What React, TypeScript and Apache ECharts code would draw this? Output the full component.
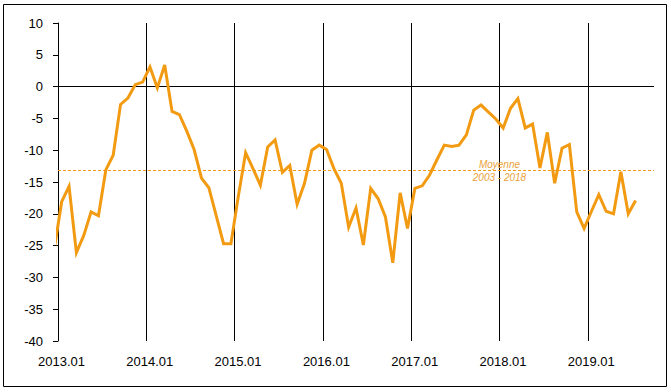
import React, { useEffect, useRef } from 'react';
import * as echarts from 'echarts';

// Monthly values, first entry is 2012.12 (clipped at the left edge), last is 2019.07
const firstYear = 2013;
const monthValues: number[] = [
  -25.5, // 2012.12
  -18.1, -15.7, -26.1, -23.4, -19.7, -20.3, -13.1, -10.8, -2.8, -1.8, 0.3, 0.7, // 2013
  3.1, -0.2, 3.4, -3.9, -4.4, -7.0, -9.9, -14.4, -15.9, -20.3, -24.7, -24.7, // 2014
  -17.3, -10.4, -12.9, -15.5, -9.5, -8.4, -13.5, -12.4, -18.5, -15.2, -10.0, -9.2, // 2015
  -9.9, -12.9, -15.2, -22.1, -19.1, -24.9, -16.0, -17.6, -20.5, -27.7, -16.7, -22.3, // 2016
  -16.0, -15.6, -13.9, -11.5, -9.2, -9.4, -9.2, -7.6, -3.7, -2.9, -4.0, -5.1, // 2017
  -6.5, -3.4, -1.9, -6.5, -5.9, -12.8, -7.2, -15.2, -9.7, -9.1, -19.7, -22.3, // 2018
  -19.6, -17.0, -19.6, -20.0, -13.4, -20.0, -17.9, // 2019
];
const yearStarts = [0, 12, 24, 36, 48, 60, 72]; // months from 2013.01
const axisMonths = 81;
const averageValue = -13.2;
const averageLabel = 'Moyenne\n2003 - 2018';
const averageLabelAt = 60; // month offset where the label sits

const ORANGE = '#F29B12';
const FONT = '"Liberation Sans", Arial, sans-serif';

export default function App() {
  const ref = useRef<HTMLDivElement>(null);
  useEffect(() => {
    if (!ref.current) return;
    const chart = echarts.init(ref.current, null, { renderer: 'svg' });
    const seriesData = monthValues.map((v, j) => [j - 0.5, v]);
    chart.setOption({
      animation: false,
      grid: { left: 58, right: 17, top: 23, bottom: 51, containLabel: false },
      graphic: [
        {
          type: 'rect',
          shape: { x: 3.5, y: 4.5, width: 663, height: 382 },
          style: { fill: 'none', stroke: '#000', lineWidth: 1 },
          silent: true,
        },
      ],
      xAxis: {
        type: 'value',
        min: 0,
        max: axisMonths,
        interval: 12,
        axisLine: { show: false },
        axisTick: { show: false },
        splitLine: { show: false },
        axisLabel: {
          formatter: (v: number) => (v % 12 === 0 ? `${firstYear + v / 12}.01` : ''),
          margin: 14,
          fontSize: 13,
          color: '#000',
          fontFamily: FONT,
          padding: [0, 0, 0, 7],
        },
      },
      yAxis: {
        type: 'value',
        min: -40,
        max: 10,
        interval: 5,
        axisLine: { show: true, lineStyle: { color: '#000', width: 1 } },
        axisTick: { show: true, length: 5, lineStyle: { color: '#000', width: 1 } },
        splitLine: { show: false },
        axisLabel: { margin: 15, fontSize: 13, color: '#000', fontFamily: FONT },
      },
      series: [
        {
          type: 'line',
          data: seriesData,
          showSymbol: false,
          clip: true,
          lineStyle: { color: ORANGE, width: 3, join: 'miter' },
          itemStyle: { color: ORANGE },
          z: 5,
          markLine: {
            silent: true,
            symbol: 'none',
            label: { show: false },
            data: [
              { yAxis: 0, lineStyle: { color: '#000', type: 'solid', width: 1 } },
              ...yearStarts
                .filter((m) => m > 0)
                .map((m) => ({ xAxis: m, lineStyle: { color: '#000', type: 'solid', width: 1 } })),
              { yAxis: averageValue, lineStyle: { color: ORANGE, type: [3, 2], width: 1 } },
            ],
          },
          markPoint: {
            silent: true,
            symbol: 'circle',
            symbolSize: 1,
            itemStyle: { color: 'rgba(0,0,0,0)' },
            label: {
              show: true,
              position: 'inside',
              formatter: averageLabel,
              fontStyle: 'italic',
              fontSize: 10,
              lineHeight: 13,
              color: '#E9A239',
              fontFamily: FONT,
            },
            data: [{ coord: [averageLabelAt, averageValue] }],
          },
        },
      ],
    });
    return () => chart.dispose();
  }, []);
  return (
    <div
      ref={ref}
      style={{ position: 'fixed', left: 0, top: 0, width: 671, height: 392, background: '#fff' }}
    />
  );
}
